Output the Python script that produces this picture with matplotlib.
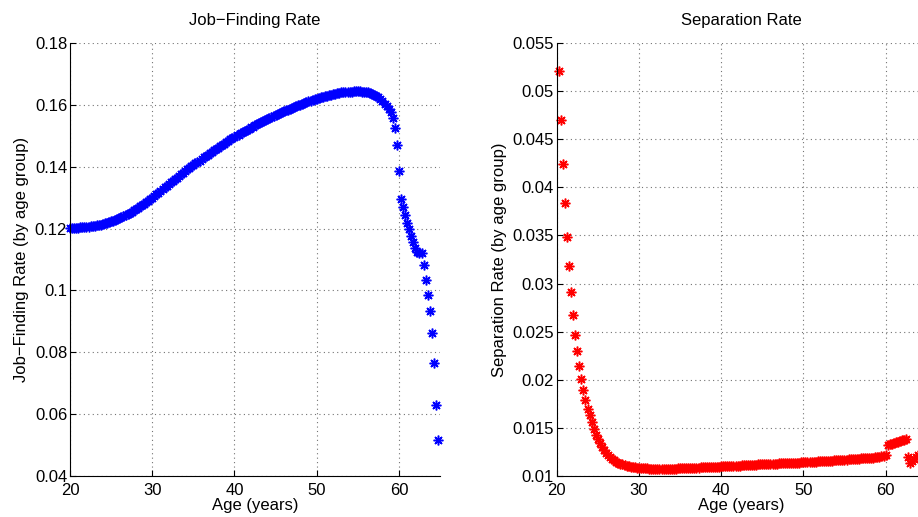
import numpy as np
import matplotlib
matplotlib.use("Agg")
import matplotlib.pyplot as plt
from matplotlib.ticker import FormatStrFormatter

plt.rcParams['font.family'] = ['Liberation Sans', 'DejaVu Sans']
plt.rcParams['font.size'] = 12

# Quarterly job-finding rate, ages 20.00 .. 64.75 (one row per year of age)
job_finding = [
    0.1203, 0.1203, 0.1203, 0.1203,
    0.1203, 0.1204, 0.1204, 0.1205,
    0.1205, 0.1206, 0.1207, 0.1208,
    0.1209, 0.1210, 0.1212, 0.1213,
    0.1215, 0.1217, 0.1219, 0.1221,
    0.1223, 0.1226, 0.1228, 0.1231,
    0.1234, 0.1237, 0.1240, 0.1244,
    0.1247, 0.1251, 0.1255, 0.1259,
    0.1263, 0.1267, 0.1272, 0.1276,
    0.1281, 0.1286, 0.1290, 0.1295,
    0.1300, 0.1305, 0.1311, 0.1316,
    0.1322, 0.1327, 0.1333, 0.1338,
    0.1344, 0.1349, 0.1354, 0.1360,
    0.1365, 0.1370, 0.1375, 0.1381,
    0.1386, 0.1391, 0.1396, 0.1401,
    0.1406, 0.1411, 0.1416, 0.1420,
    0.1425, 0.1430, 0.1435, 0.1439,
    0.1444, 0.1448, 0.1453, 0.1457,
    0.1462, 0.1466, 0.1471, 0.1475,
    0.1480, 0.1484, 0.1488, 0.1493,
    0.1497, 0.1501, 0.1504, 0.1508,
    0.1512, 0.1516, 0.1519, 0.1523,
    0.1527, 0.1530, 0.1534, 0.1537,
    0.1541, 0.1544, 0.1547, 0.1551,
    0.1554, 0.1557, 0.1561, 0.1564,
    0.1567, 0.1570, 0.1573, 0.1576,
    0.1579, 0.1582, 0.1584, 0.1587,
    0.1590, 0.1593, 0.1596, 0.1598,
    0.1601, 0.1604, 0.1606, 0.1609,
    0.1611, 0.1613, 0.1616, 0.1618,
    0.1620, 0.1622, 0.1624, 0.1626,
    0.1628, 0.1630, 0.1632, 0.1633,
    0.1635, 0.1636, 0.1638, 0.1639,
    0.1640, 0.1641, 0.1642, 0.1642,
    0.1643, 0.1643, 0.1644, 0.1644,
    0.1644, 0.1644, 0.1643, 0.1643,
    0.1642, 0.1641, 0.1639, 0.1636,
    0.1633, 0.1629, 0.1624, 0.1618,
    0.1611, 0.1603, 0.1595, 0.1586,
    0.1576, 0.1556, 0.1525, 0.1469,
    0.1387, 0.1295, 0.1270, 0.1244,
    0.1219, 0.1198, 0.1176, 0.1156,
    0.1138, 0.1125, 0.1120, 0.1120,
    0.1082, 0.1034, 0.0985, 0.0934,
    0.0863, 0.0764, 0.0630, 0.0517,
]

# Quarterly separation rate, ages 20.25 .. 64.75
separation = [
    0.0521, 0.0470, 0.0424,
    0.0384, 0.0348, 0.0318, 0.0291,
    0.0267, 0.0247, 0.0230, 0.0214,
    0.0201, 0.0189, 0.0179, 0.0170,
    0.0163, 0.0156, 0.0149, 0.0143,
    0.0138, 0.0134, 0.0130, 0.0127,
    0.01240, 0.01217, 0.01196, 0.01179,
    0.01163, 0.01150, 0.01139, 0.01129,
    0.01121, 0.01114, 0.01108, 0.01102,
    0.01098, 0.01094, 0.01091, 0.01088,
    0.01085, 0.01083, 0.01081, 0.01079,
    0.01078, 0.01077, 0.01076, 0.01075,
    0.01075, 0.01074, 0.01074, 0.01074,
    0.01074, 0.01074, 0.01075, 0.01075,
    0.01076, 0.01076, 0.01077, 0.01078,
    0.01079, 0.01080, 0.01081, 0.01082,
    0.01083, 0.01084, 0.01085, 0.01086,
    0.01087, 0.01088, 0.01089, 0.01090,
    0.01091, 0.01092, 0.01093, 0.01094,
    0.01095, 0.01096, 0.01097, 0.01098,
    0.01099, 0.01100, 0.01101, 0.01102,
    0.01104, 0.01105, 0.01106, 0.01107,
    0.01108, 0.01109, 0.01110, 0.01112,
    0.01113, 0.01114, 0.01115, 0.01116,
    0.01117, 0.01118, 0.01120, 0.01121,
    0.01122, 0.01123, 0.01124, 0.01125,
    0.01126, 0.01127, 0.01128, 0.01129,
    0.01130, 0.01131, 0.01132, 0.01133,
    0.01134, 0.01135, 0.01136, 0.01137,
    0.01138, 0.01139, 0.01140, 0.01141,
    0.01142, 0.01143, 0.01145, 0.01146,
    0.01147, 0.01149, 0.01150, 0.01151,
    0.01153, 0.01154, 0.01155, 0.01157,
    0.01158, 0.01160, 0.01161, 0.01162,
    0.01164, 0.01165, 0.01167, 0.01168,
    0.01170, 0.01171, 0.01173, 0.01174,
    0.01176, 0.01177, 0.01179, 0.01180,
    0.01182, 0.01184, 0.01185, 0.01187,
    0.01189, 0.01190, 0.01192, 0.01194,
    0.01198, 0.01202, 0.01207, 0.01213,
    0.01222, 0.01322, 0.01330, 0.01337,
    0.01344, 0.01351, 0.01357, 0.01363,
    0.01369, 0.01375, 0.01382, 0.01200,
    0.01138, 0.01158, 0.01178, 0.01197,
    0.01215, 0.01230, 0.01245, 0.01260,
]

age_start_jf = 20.0
age_start_sep = 20.25
step = 0.25
ages_jf = age_start_jf + step * np.arange(len(job_finding))
ages_sep = age_start_sep + step * np.arange(len(separation))

x_ticks = [20, 30, 40, 50, 60]
jf_ticks = [0.04, 0.06, 0.08, 0.10, 0.12, 0.14, 0.16, 0.18]
sep_ticks = [0.01, 0.015, 0.02, 0.025, 0.03, 0.035, 0.04, 0.045, 0.05, 0.055]

fig = plt.figure(figsize=(9.18, 5.17), dpi=100)
ax_w, ax_h, ax_b = 370 / 918, 433 / 517, 41 / 517
ax1 = fig.add_axes([70 / 918, ax_b, ax_w, ax_h])
ax2 = fig.add_axes([556.7 / 918, ax_b, ax_w, ax_h])

# eight-armed asterisk marker
star = (8, 2, 0)


def style(ax, yticks, ylim, title, ylabel):
    ax.set_xlim(20, 65)
    ax.set_ylim(*ylim)
    ax.set_xticks(x_ticks)
    ax.set_yticks(yticks)
    ax.yaxis.set_major_formatter(FormatStrFormatter('%g'))
    ax.grid(True, linestyle=(0, (1, 3)), color='0.45', linewidth=0.8)
    ax.set_axisbelow(True)
    for s in ('top', 'right'):
        ax.spines[s].set_visible(False)
    for s in ('left', 'bottom'):
        ax.spines[s].set_linewidth(0.8)
    ax.tick_params(direction='in', length=4, width=0.8, labelsize=12)
    ax.tick_params(axis='y', pad=2)
    ax.tick_params(axis='x', pad=5)
    ax.set_title(title, fontsize=12, pad=13)
    ax.set_xlabel('Age (years)', fontsize=12, labelpad=0)
    ax.set_ylabel(ylabel, fontsize=12, labelpad=4)


ax1.plot(ages_jf, job_finding, linestyle='none', marker=star, color='#0000ff',
         markersize=7, markeredgewidth=1.1, clip_on=False)
style(ax1, jf_ticks, (0.04, 0.18), 'Job\u2212Finding Rate',
      'Job\u2212Finding Rate (by age group)')

ax2.plot(ages_sep, separation, linestyle='none', marker=star, color='#ff0000',
         markersize=7, markeredgewidth=1.1, clip_on=False)
style(ax2, sep_ticks, (0.01, 0.055), 'Separation Rate',
      'Separation Rate (by age group)')

fig.savefig('out.png', dpi=100)
